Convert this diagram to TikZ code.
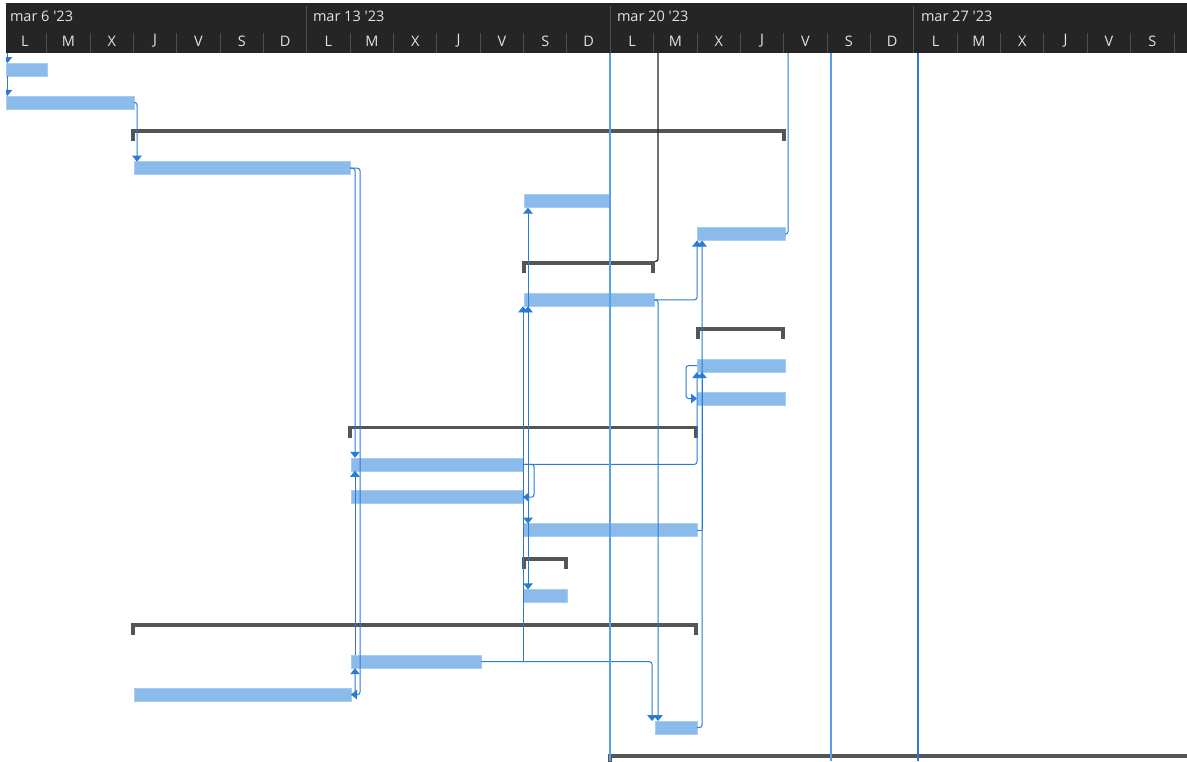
\documentclass[tikz,border=0pt]{standalone}
\usepackage{fontspec}
\newfontfamily\hdrfont{Open Sans}
\usetikzlibrary{arrows.meta, calc}
\definecolor{hdrbg}{HTML}{252525}
\definecolor{hdrline}{HTML}{4E4E4E}
\definecolor{hdrtext}{HTML}{E2E2E2}
\definecolor{taskblue}{HTML}{8BBBEB}
\definecolor{linkblue}{HTML}{2B7BD6}
\definecolor{sumgray}{HTML}{555555}
\definecolor{markblue}{HTML}{5A9FE6}

\begin{document}
\begin{tikzpicture}[
    x=1pt, y=-1pt,
    every node/.style={inner sep=0pt, outer sep=0pt},
    task/.style={fill=taskblue, draw=taskblue!75!white, line width=0.6pt,
                 minimum height=13pt, anchor=west},
    summ/.style={fill=sumgray, minimum height=3.5pt, anchor=north west},
    link/.style={draw=linkblue, line width=1pt, rounded corners=2.5pt,
                 -{Triangle[width=9.5pt, length=6pt]}},
    plain/.style={draw=linkblue, line width=1pt, rounded corners=2.5pt},
    marker/.style={draw=markblue, line width=1.4pt},
    dayhdr/.style={font=\hdrfont\fontsize{14.5}{15}\selectfont, text=hdrtext},
  ]
  \useasboundingbox (0,0) rectangle (1187,761);

  % timescale
  \fill[hdrbg] (6,3) rectangle (1187,53);
  \foreach \k in {1,...,27}
    \draw[hdrline, line width=1pt] ({3.3+43.36*\k},33) -- ({3.3+43.36*\k},53);
  \foreach \k in {7,14,21}
    \draw[hdrline, line width=1pt] ({3.3+43.36*\k},6) -- ({3.3+43.36*\k},53);
  \foreach \d [count=\i from 0] in {L,M,X,J,V,S,D,L,M,X,J,V,S,D,L,M,X,J,V,S,D,L,M,X,J,V,S}
    \node[dayhdr] (day\i) at ({3.3+43.36*\i+21.68},41) {\d};
  \node[dayhdr, anchor=west] (wk1) at (10,16)  {mar 6 \textquotesingle 23};
  \node[dayhdr, anchor=west] (wk2) at (313,16) {mar 13 \textquotesingle 23};
  \node[dayhdr, anchor=west] (wk3) at (617,16) {mar 20 \textquotesingle 23};
  \node[dayhdr, anchor=west] (wk4) at (921,16) {mar 27 \textquotesingle 23};

  \begin{scope}
    \clip (6,53) rectangle (1187,761);

    % tasks
    \node[task, minimum width=41pt]  (t1)  at (6,69.5)    {};
    \node[task, minimum width=128pt] (t2)  at (6,102.4)   {};
    \node[task, minimum width=216pt] (t4)  at (134,168.2) {};
    \node[task, minimum width=86pt]  (t5)  at (524,201.1) {};
    \node[task, minimum width=88pt]  (t6)  at (697,234.0) {};
    \node[task, minimum width=130pt] (t8)  at (524,299.8) {};
    \node[task, minimum width=88pt]  (t10) at (697,365.6) {};
    \node[task, minimum width=88pt]  (t11) at (697,398.5) {};
    \node[task, minimum width=172pt] (t13) at (351,464.3) {};
    \node[task, minimum width=172pt] (t14) at (351,497.2) {};
    \node[task, minimum width=174pt] (t15) at (523,530.1) {};
    \node[task, minimum width=44pt]  (t17) at (523,595.9) {};
    \node[task, minimum width=130pt] (t19) at (351,661.7) {};
    \node[task, minimum width=217pt] (t20) at (134,694.6) {};
    \node[task, minimum width=42pt]  (t21) at (655,727.5) {};

    % summaries
    \node[summ, minimum width=655pt] (s3)  at (131,129.3) {};
    \node[summ, minimum width=133pt] (s7)  at (522,261.2) {};
    \node[summ, minimum width=89pt]  (s9)  at (696,327.0) {};
    \node[summ, minimum width=350pt] (s12) at (348,425.8) {};
    \node[summ, minimum width=46pt]  (s16) at (522,557.0) {};
    \node[summ, minimum width=567pt] (s18) at (131,623.0) {};
    \node[summ, minimum width=600pt] (s22) at (608,754.4) {};
    \foreach \s in {s3,s7,s9,s12,s16,s18,s22} {
      \fill[sumgray] (\s.north west) rectangle ++(4,12);
      \fill[sumgray] (\s.north east) rectangle ++(-4,12);
    }

    % link lanes
    \foreach \x in {137,355,360,523,528,534,652,658,686,697,702}
      \coordinate (v\x) at (\x,0);
    \coordinate (top1) at (7.5,53);
    \coordinate (top6) at (788,53);
    \coordinate (top7) at (658,53);

    % links
    \draw[link] (top1) -- (top1 |- t1.north);
    \draw[link] (top1 |- t1.south) -- (top1 |- t2.north);
    \draw[link] (t2.east) -| (v137 |- t4.north);
    \draw[link] (t4.east) -| (v355 |- t13.north);
    \draw[link] (t4.east) -| (v360 |- t20.east) -- (t20.east);
    \draw[link] (t20.east) -| (v355 |- t19.south);
    \draw[link] (v355 |- t19.north) -- (v355 |- t13.south);
    \draw[plain] (t14.east) -- (v528 |- t14.east);
    \draw[link] (v528 |- t14.east) -- (v528 |- t5.south);
    \draw[link] (v528 |- t14.east) -- (v528 |- t8.south);
    \draw[link] (v528 |- t14.east) -- (v528 |- t15.north);
    \draw[link] (v528 |- t14.east) -- (v528 |- t17.north);
    \draw[link] (t13.east) -| (v534 |- t14.east) -- (t14.east);
    \draw[link] (t13.east) -| (v697 |- t10.south);
    \draw[link] (t8.east) -| (v697 |- t6.south);
    \draw[link] (t8.east) -| (v658 |- t21.north);
    \draw[link] (t19.east) -| (v652 |- t21.north);
    \draw[link] (v523 |- t19.east) -- (v523 |- t8.south);
    \draw[link] (t21.east) -| (v702 |- t6.south);
    \draw[plain] (t15.east) -- (v702 |- t15.east);
    \draw[link] (v702 |- t15.east) -- (v702 |- t10.south);
    \draw[link] (t10.west) -| (v686 |- t11.west) -- (t11.west);
    \draw[plain] (t6.east) -| (top6);
    \draw[black!85, line width=1.3pt, rounded corners=2pt] (s7.north east) -| (top7);

    % date lines
    \draw[marker] (610,53) -- (610,761);
    \draw[marker] (831,53) -- (831,761);
    \draw[marker, draw=linkblue, line width=1.2pt] (918,53) -- (918,761);
  \end{scope}
\end{tikzpicture}
\end{document}
